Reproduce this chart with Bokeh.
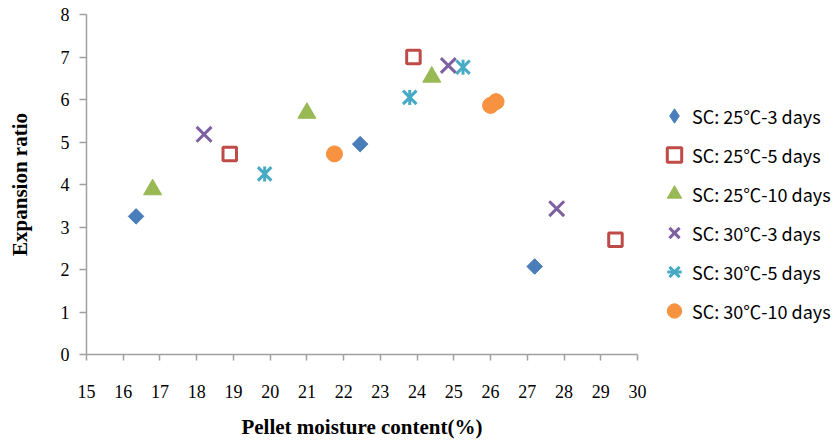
import numpy as np
from bokeh.plotting import figure
from bokeh.models import Legend, LegendItem, Range1d, FixedTicker
from bokeh.embed import file_html
from bokeh.resources import INLINE

# Data
x_25_3 = [16.35, 22.45, 27.2]
y_25_3 = [3.25, 4.95, 2.07]
x_25_5 = [18.9, 23.9, 29.4]
y_25_5 = [4.72, 7.0, 2.7]
x_25_10 = [16.8, 21.0, 24.4]
y_25_10 = [3.88, 5.68, 6.53]
x_30_3 = [18.2, 24.85, 27.8]
y_30_3 = [5.18, 6.8, 3.43]
x_30_5 = [19.85, 23.8, 25.25]
y_30_5 = [4.25, 6.05, 6.76]
x_30_10 = [21.75, 26.0, 26.15]
y_30_10 = [4.72, 5.86, 5.95]

labels = ["SC: 25℃-3 days", "SC: 25℃-5 days", "SC: 25℃-10 days",
          "SC: 30℃-3 days", "SC: 30℃-5 days", "SC: 30℃-10 days"]
x_ticks = list(range(15, 31))
y_ticks = list(range(0, 9))

p = figure(frame_width=551, frame_height=340, output_backend="svg", toolbar_location=None,
           x_range=Range1d(15, 30), y_range=Range1d(0, 8),
           min_border_left=86, min_border_right=0, min_border_top=14, min_border_bottom=72)
p.outline_line_color = None
p.xgrid.visible = False
p.ygrid.visible = False
p.background_fill_color = "white"

blue = "#4A7EBB"
# diamond (legend glyph) underneath the rotated square that forms the visible diamond
r1 = p.scatter(x_25_3, y_25_3, marker="diamond", size=14,
               fill_color=blue, line_color=blue, line_width=1)
p.scatter(x_25_3, y_25_3, marker="square", angle=np.pi / 4, size=11,
          fill_color=blue, line_color=blue, line_width=1)
r2 = p.scatter(x_25_5, y_25_5, marker="square", size=13.5, fill_color="white",
               line_color="#BE4B48", line_width=3)
r3 = p.scatter(x_25_10, y_25_10, marker="triangle", size=18,
               fill_color="#98B954", line_color="#98B954", line_width=1)
r4 = p.scatter(x_30_3, y_30_3, marker="x", size=21, line_color="#7D60A0", line_width=3)
r5a = p.scatter(x_30_5, y_30_5, marker="x", size=19, line_color="#46AAC5", line_width=3)
r5b = p.scatter(x_30_5, y_30_5, marker="dash", angle=np.pi / 2, size=15,
                line_color="#46AAC5", line_width=3)
r6 = p.scatter(x_30_10, y_30_10, marker="circle", size=16,
               fill_color="#F69240", line_color="#F69240", line_width=1)

axis_color = "#A0A0A0"
for ax in (p.xaxis[0], p.yaxis[0]):
    ax.axis_line_color = axis_color
    ax.axis_line_width = 1.5
    ax.major_tick_line_color = axis_color
    ax.major_tick_line_width = 1.5
    ax.major_tick_in = 0
    ax.minor_tick_line_color = None
    ax.major_label_text_font = "Liberation Serif"
    ax.major_label_text_font_size = "18px"
    ax.major_label_text_color = "black"
    ax.axis_label_text_font = "Liberation Serif"
    ax.axis_label_text_font_style = "bold"
    ax.axis_label_text_font_size = "21px"
    ax.axis_label_text_color = "black"

p.xaxis.ticker = FixedTicker(ticks=x_ticks)
p.yaxis.ticker = FixedTicker(ticks=y_ticks)
p.xaxis.major_tick_out = 6
p.yaxis.major_tick_out = 7
p.xaxis.major_label_standoff = 24
p.yaxis.major_label_standoff = 10
p.xaxis.axis_label = "Pellet moisture content(%)"
p.yaxis.axis_label = "Expansion ratio"
p.xaxis.axis_label_standoff = 14
p.yaxis.axis_label_standoff = 26

items = [LegendItem(label=labels[0], renderers=[r1]),
         LegendItem(label=labels[1], renderers=[r2]),
         LegendItem(label=labels[2], renderers=[r3]),
         LegendItem(label=labels[3], renderers=[r4]),
         LegendItem(label=labels[4], renderers=[r5a, r5b]),
         LegendItem(label=labels[5], renderers=[r6])]
legend = Legend(items=items, location=(19, 24), orientation="vertical")
legend.border_line_color = None
legend.background_fill_alpha = 0
legend.padding = 0
legend.margin = 0
legend.spacing = 0
legend.glyph_width = 36
legend.glyph_height = 39
legend.label_height = 39
legend.label_standoff = 0
legend.label_text_font = "Noto Sans CJK SC"
legend.label_text_font_size = "18px"
legend.label_text_color = "black"
p.add_layout(legend, "right")

open("out.html", "w").write(file_html(p, INLINE))
